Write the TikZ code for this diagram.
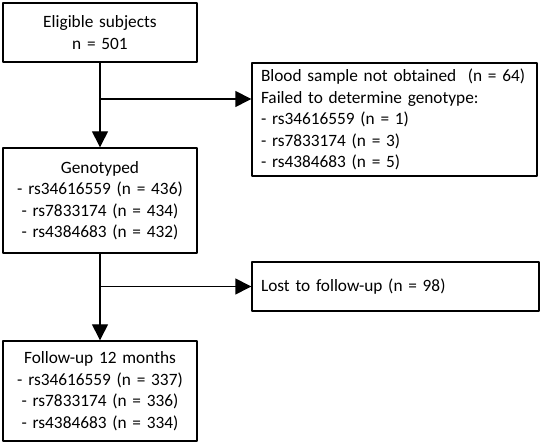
\documentclass[tikz,border=0pt]{standalone}
\usepackage{fontspec}
\setmainfont{Carlito}
\usetikzlibrary{arrows.meta}
\begin{document}
\begin{tikzpicture}[x=1pt,y=1pt,line join=round,font=\fontsize{17.3}{21.5}\selectfont,
	box/.style={draw,line width=1.4pt,inner xsep=9pt,inner ysep=0pt},
	mainbox/.style={box,align=center,minimum width=194pt,text width=176pt},
	sidebox/.style={box,align=left,text width=267pt},
	flow/.style={line width=1.4pt,-{Triangle[length=16pt,width=16pt]}}]
	\useasboundingbox (0,0) rectangle (540,444);
	\node[mainbox,minimum height=59pt] (elig) at (100,411.5) {Eligible subjects\\n = 501};
	\node[sidebox,minimum height=113pt] (excl) at (394.5,324.5) {Blood sample not obtained~~(n = 64)\\Failed to determine genotype:\\- rs34616559 (n = 1)\\- rs7833174 (n = 3)\\- rs4384683 (n = 5)};
	\node[mainbox,minimum height=105pt] (geno) at (100,243.5) {Genotyped\\- rs34616559 (n = 436)\\- rs7833174 (n = 434)\\- rs4384683 (n = 432)};
	\node[sidebox,minimum height=49pt,text width=269pt] (lost) at (395.5,157.5) {Lost to follow-up (n = 98)};
	\node[mainbox,minimum height=100pt] (foll) at (100,53) {Follow-up 12 months\\- rs34616559 (n = 337)\\- rs7833174 (n = 336)\\- rs4384683 (n = 334)};
	% branches
	\coordinate (b1) at (100,345);
	\coordinate (b2) at (100,157.5);
	\draw[flow] (elig) -- (geno);
	\draw[flow] (b1) -- (b1 -| excl.west);
	\draw[flow] (geno) -- (foll);
	\draw[flow] (b2) -- (lost);
\end{tikzpicture}
\end{document}
